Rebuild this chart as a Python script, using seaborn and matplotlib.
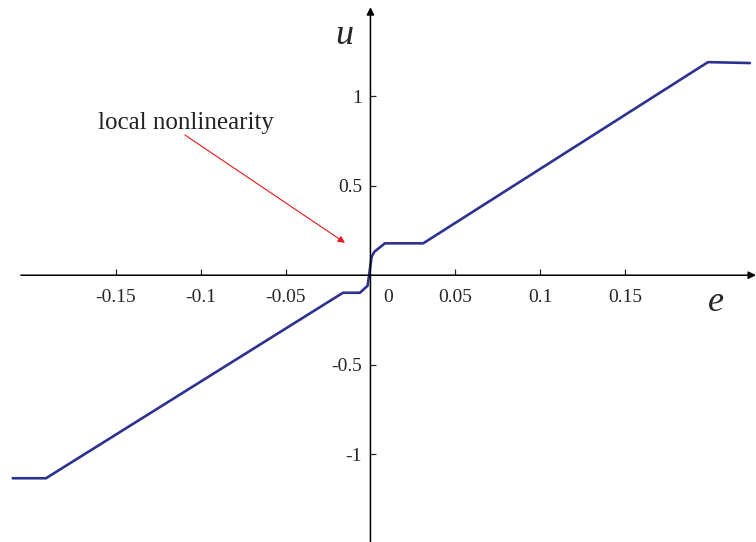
import numpy as np
import pandas as pd
import matplotlib
matplotlib.use('Agg')
import matplotlib.pyplot as plt
import seaborn as sns

# controller characteristic u(e)
e_vals = [-0.2108, -0.1912, -0.0162, -0.0062, -0.0017, 0.0007, 0.0023, 0.0085, 0.0311, 0.1989, 0.2236]
u_vals = [-1.134, -1.134, -0.098, -0.098, -0.059, 0.103, 0.131, 0.178, 0.178, 1.19, 1.185]

x_ticks = [-0.15, -0.1, -0.05, 0.05, 0.1, 0.15]
x_ticklabels = ['-0.15', '-0.1', '-0.05', '0.05', '0.1', '0.15']
y_ticks = [-1, -0.5, 0.5, 1]
y_ticklabels = ['-1', '-0.5', '0.5', '1']

sns.set_style('white')
plt.rcParams['font.family'] = ['Liberation Serif', 'DejaVu Serif']

df = pd.DataFrame({'e': e_vals, 'u': u_vals})

fig = plt.figure(figsize=(7.56, 5.42), dpi=100)
ax = fig.add_axes([0, 0, 1, 1])

sns.lineplot(x='e', y='u', data=df, sort=False, estimator=None,
             color='#2E3192', linewidth=1.9, ax=ax)

ax.set_xlim(-0.2183, 0.2272)
ax.set_ylim(-1.49, 1.537)

# axes through the origin, drawn as arrows
for s in ['top', 'right']:
    ax.spines[s].set_visible(False)
ax.spines['left'].set_position(('data', 0))
ax.spines['bottom'].set_position(('data', 0))
ax.spines['left'].set_visible(False)
ax.spines['bottom'].set_visible(False)

ax.annotate('', xy=(0.2272, 0), xytext=(-0.206, 0),
            arrowprops=dict(arrowstyle='-|>', color='black', lw=1.1,
                            mutation_scale=11, shrinkA=0, shrinkB=0))
ax.annotate('', xy=(0, 1.497), xytext=(0, -1.49),
            arrowprops=dict(arrowstyle='-|>', color='black', lw=1.1,
                            mutation_scale=11, shrinkA=0, shrinkB=0))

ax.set_xticks(x_ticks)
ax.set_xticklabels(x_ticklabels)
ax.set_yticks(y_ticks)
ax.set_yticklabels(y_ticklabels)
ax.tick_params(axis='x', direction='in', length=4, width=0.9, pad=10,
               labelsize=14, bottom=True)
ax.tick_params(axis='y', direction='in', length=4, width=0.9, pad=6,
               labelsize=14, left=True)
ax.annotate('0', xy=(0, 0), xytext=(13, -10), textcoords='offset points',
            ha='center', va='top', fontsize=14)

ax.set_xlabel('')
ax.set_ylabel('')
ax.text(-0.0156, 1.341, 'u', fontsize=26, style='italic', ha='center', va='center')
ax.text(0.2036, -0.155, 'e', fontsize=26, style='italic', ha='center', va='center')

# annotation
ax.text(-0.1087, 0.85, 'local nonlinearity', ha='center', va='center',
        fontsize=18, color='#222222')
ax.annotate('', xy=(-0.015, 0.181), xytext=(-0.1093, 0.783),
            arrowprops=dict(arrowstyle='-|>', color='#E8161E', lw=0.8,
                            mutation_scale=10, shrinkA=0, shrinkB=0))

fig.savefig('out.png', dpi=100)
